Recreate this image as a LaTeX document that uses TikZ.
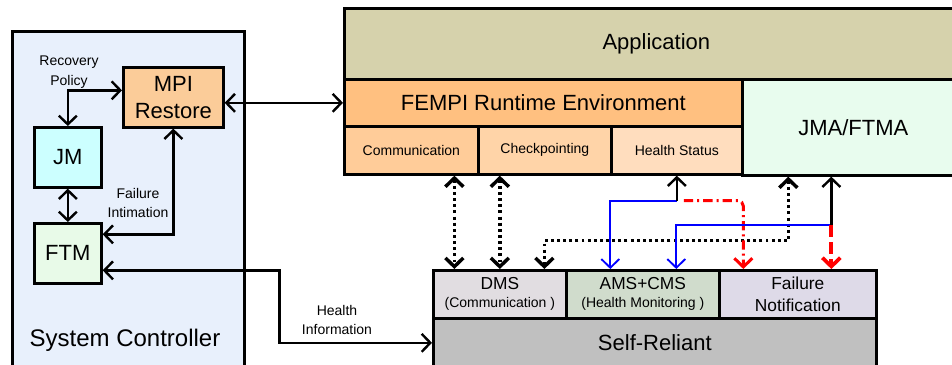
\documentclass[tikz,border=0pt]{standalone}
\usepackage{fontspec}
\setmainfont{Liberation Sans}
\usetikzlibrary{arrows.meta}

\definecolor{sysblue}{RGB}{232,240,252}
\definecolor{mpiorange}{RGB}{251,204,153}
\definecolor{jmcyan}{RGB}{204,255,255}
\definecolor{ftmgreen}{RGB}{232,250,232}
\definecolor{apptan}{RGB}{214,210,172}
\definecolor{fempiorange}{RGB}{255,192,128}
\definecolor{commorange}{RGB}{255,204,153}
\definecolor{ckptorange}{RGB}{255,212,168}
\definecolor{hstatorange}{RGB}{255,221,190}
\definecolor{jmagreen}{RGB}{232,252,238}
\definecolor{dmsgray}{RGB}{225,221,225}
\definecolor{amsgreen}{RGB}{208,220,204}
\definecolor{fnotlilac}{RGB}{222,218,232}
\definecolor{selfgray}{RGB}{192,192,192}

\tikzset{every picture/.style={line width=0.75pt}}
\tikzset{
  box/.style={draw=black, line width=2pt, rectangle, anchor=north west, inner sep=0pt, align=center},
  bigtxt/.style={font=\fontsize{16.5}{20}\selectfont},
  midtxt/.style={font=\fontsize{13}{16.5}\selectfont},
  smltxt/.style={font=\fontsize{10.5}{14.5}\selectfont, align=center},
  biarr/.style={{Straight Barb[length=6.5pt,width=13.5pt]}-{Straight Barb[length=6.5pt,width=13.5pt]}, line width=1.8pt},
  dotarr/.style={biarr, line width=2.6pt, dash pattern=on 2.2pt off 2.4pt},
  uparr/.style={-{Straight Barb[length=6.5pt,width=13.5pt]}, line width=1.8pt},
  bluearr/.style={uparr, draw=blue, line width=1.4pt},
  redarr/.style={-{Straight Barb[length=6.5pt,width=13.5pt]}, draw=red, line width=2.25pt}
}

\begin{document}
\begin{tikzpicture}[x=0.75pt,y=0.75pt,yscale=-1,xscale=1]
	\useasboundingbox (0,0) rectangle (952,364);

	%Shape: Rectangle [System Controller]
	\node[box, fill=sysblue, minimum width=174pt, minimum height=253.5pt] (sysctl) at (11,30) {};
	%Shape: Rectangle [MPI Restore]
	\node[box, bigtxt, fill=mpiorange, minimum width=75pt, minimum height=45pt] (mpi) at (122,66) {MPI\\Restore};
	%Shape: Rectangle [JM]
	\node[box, bigtxt, fill=jmcyan, minimum width=50.25pt, minimum height=45pt] (jm) at (33,126) {JM};
	%Shape: Rectangle [FTM]
	\node[box, bigtxt, fill=ftmgreen, minimum width=50.25pt, minimum height=45pt] (ftm) at (33,222) {FTM};

	%Shape: Rectangle [Application]
	\node[box, bigtxt, fill=apptan, minimum width=468pt, minimum height=53.25pt] (app) at (343,7) {Application};
	%Shape: Rectangle [FEMPI]
	\node[box, bigtxt, fill=fempiorange, minimum width=298.5pt, minimum height=35.25pt] (fempi) at (343,78) {FEMPI Runtime Environment};
	\node[box, smltxt, fill=commorange, minimum width=100.5pt, minimum height=36pt] (comm) at (343,125) {Communication};
	\node[box, smltxt, fill=ckptorange, minimum width=99.75pt, minimum height=36pt] (ckpt) at (477,125) {Checkpointing};
	\node[box, smltxt, fill=hstatorange, minimum width=98.25pt, minimum height=36pt] (hstat) at (610,125) {Health Status};
	%Shape: Rectangle [JMA/FTMA]
	\node[box, bigtxt, fill=jmagreen, minimum width=166.5pt, minimum height=72pt] (jma) at (741,78) {JMA/FTMA};

	%Shape: Rectangle [Self-Reliant]
	\node[box, midtxt, fill=dmsgray, minimum width=99.75pt, minimum height=36pt] (dms) at (432,269) {DMS\\[-3pt]{\fontsize{10.5}{12}\selectfont (Communication )}};
	\node[box, midtxt, fill=amsgreen, minimum width=114.75pt, minimum height=36pt] (ams) at (565,269) {AMS+CMS\\[-3pt]{\fontsize{10.5}{12}\selectfont (Health Monitoring )}};
	\node[box, midtxt, fill=fnotlilac, minimum width=117.75pt, minimum height=36pt] (fnot) at (718,269) {Failure\\Notification};
	\node[box, bigtxt, fill=selfgray, minimum width=332.25pt, minimum height=36.75pt] (self) at (432,317) {Self-Reliant};

	% Text Node
	\node[font=\fontsize{18}{21}\selectfont] (sctxt) at (125,340) {System Controller};
	% Text Node
	\node[smltxt] (rptxt) at (69,72) {Recovery\\Policy};
	% Text Node
	\node[smltxt] (fitxt) at (138,203) {Failure\\Intimation};
	% Text Node
	\node[smltxt] (hitxt) at (337,320) {Health\\Information};

	%Straight Lines [controller]
	\draw[biarr] (jm.north) |- ([yshift=-5.25pt]mpi.west);
	\draw[biarr] (jm.south) -- (ftm.north);
	\draw[biarr] (mpi.south) |- ([yshift=-14.25pt]ftm.east);
	\draw[biarr] ([yshift=12.75pt]ftm.east) -- ++(177,0) |- (self.west);
	\draw[biarr] (mpi.east |- fempi.west) -- (fempi.west);

	%Straight Lines [dotted]
	\draw[dotarr] ([xshift=-34.1pt]dms.north |- comm.south) -- ([xshift=-34.1pt]dms.north);
	\draw[dotarr] (dms.north |- ckpt.south) -- (dms.north);
	\draw[dotarr] ([xshift=-48.75pt]jma.south) -- ++(0,64) -| ([xshift=33.4pt]dms.north);

	%Straight Lines [health status fork]
	\coordinate (hsfork) at ([yshift=18.75pt]hstat.south);
	\draw[bluearr] (hsfork) -| ([xshift=-24.4pt]ams.north);
	\draw[redarr, dash pattern=on 7pt off 3pt on 1.5pt off 3pt, rounded corners=4pt] ([xshift=5.25pt]hsfork) -| ([xshift=-40.9pt]fnot.north);
	\draw[uparr] (hsfork) -- (hstat.south);

	%Straight Lines [JMA fork]
	\coordinate (jmfork) at ([xshift=-16.5pt,yshift=36pt]jma.south);
	\draw[bluearr] (jmfork) -| ([xshift=25.1pt]ams.north);
	\draw[redarr, line width=2.8pt, dash pattern=on 9pt off 4pt] (jmfork) -- (jmfork |- fnot.north);
	\draw[uparr] (jmfork) -- (jmfork |- jma.south);

\end{tikzpicture}
\end{document}
